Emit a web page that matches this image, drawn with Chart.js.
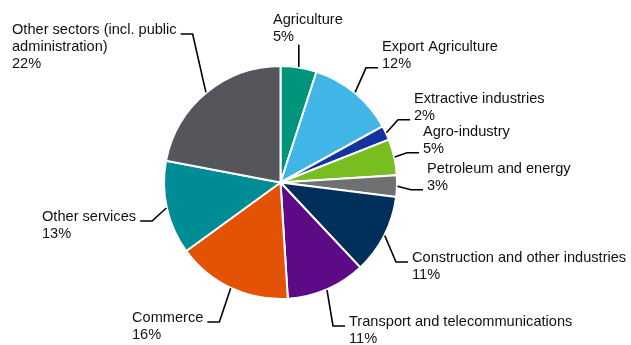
<!DOCTYPE html>
<html>
<head>
<meta charset="utf-8">
<script src="https://cdn.jsdelivr.net/npm/chart.js@4"></script>
<style>
  html, body { margin: 0; padding: 0; background: #fff; }
  #wrap { width: 631px; height: 345px; }
</style>
</head>
<body>
<div id="wrap"><canvas id="chart"></canvas></div>
<script>
// Share of credit by sector (%)
const sectors = [
    'Agriculture',
    'Export Agriculture',
    'Extractive industries',
    'Agro-industry',
    'Petroleum and energy',
    'Construction and other industries',
    'Transport and telecommunications',
    'Commerce',
    'Other services',
    ['Other sectors (incl. public', 'administration)']
];
const shares = [5, 12, 2, 5, 3, 11, 11, 16, 13, 22];
const sliceColors = [
    '#00957a', '#41b6e6', '#1432a0', '#78be20', '#6e7071',
    '#00305a', '#5c0a85', '#e35205', '#008c95', '#54565b'
];

// where each callout sits: text left/top-line centre, side, which line the leader meets
const calloutLayout = [
    { x: 273, y: 20,  side: 'top' },
    { x: 382, y: 47,  side: 'right', line: 1 },
    { x: 414, y: 99,  side: 'right', line: 1 },
    { x: 423, y: 132, side: 'right', line: 1 },
    { x: 427, y: 169, side: 'right', line: 1 },
    { x: 412, y: 258, side: 'right', line: 0 },
    { x: 349, y: 322, side: 'right', line: 0 },
    { x: 132, y: 318, side: 'left',  line: 0 },
    { x: 42,  y: 217, side: 'left',  line: 0 },
    { x: 12,  y: 30,  side: 'left',  line: 0 }
];

const FONT = '14.6px "Liberation Sans", Arial, sans-serif';
const LINE_H = 16.8;
const HOOK = 12;

const calloutPlugin = {
    id: 'callouts',
    afterDatasetsDraw(chart) {
        const ctx = chart.ctx;
        const meta = chart.getDatasetMeta(0);
        const values = chart.data.datasets[0].data;
        ctx.save();
        ctx.font = FONT;
        ctx.fillStyle = '#111111';
        ctx.strokeStyle = '#000000';
        ctx.lineWidth = 1.6;
        ctx.textBaseline = 'middle';
        ctx.textAlign = 'left';

        meta.data.forEach((arc, i) => {
            const lay = calloutLayout[i];
            const name = chart.data.labels[i];
            const lines = (Array.isArray(name) ? name : [name]).concat(values[i] + '%');
            lines.forEach((t, k) => ctx.fillText(t, lay.x, lay.y + k * LINE_H));

            const mid = (arc.startAngle + arc.endAngle) / 2;
            const r = arc.outerRadius + 0.5;
            const ax = arc.x + Math.cos(mid) * r;
            const ay = arc.y + Math.sin(mid) * r;

            ctx.beginPath();
            ctx.moveTo(ax, ay);
            if (lay.side === 'top') {
                ctx.lineTo(ax, lay.y + (lines.length - 1) * LINE_H + 8);
            } else {
                const ly = lay.y + lay.line * LINE_H + 4;
                let end;
                if (lay.side === 'right') {
                    end = lay.x - 4;
                    ctx.lineTo(end - HOOK, ly);
                } else {
                    end = lay.x + ctx.measureText(lines[lay.line]).width + 4;
                    ctx.lineTo(end + HOOK, ly);
                }
                ctx.lineTo(end, ly);
            }
            ctx.stroke();
        });
        ctx.restore();
    }
};

new Chart(document.getElementById('chart'), {
    type: 'pie',
    data: {
        labels: sectors,
        datasets: [{
            data: shares,
            backgroundColor: sliceColors,
            borderColor: '#ffffff',
            borderWidth: 2
        }]
    },
    options: {
        responsive: true,
        maintainAspectRatio: false,
        animation: false,
        radius: 116.5,
        layout: { padding: { left: 0, right: 70, top: 20, bottom: 0 } },
        plugins: {
            legend: { display: false },
            tooltip: { enabled: false }
        }
    },
    plugins: [calloutPlugin]
});
</script>
</body>
</html>
